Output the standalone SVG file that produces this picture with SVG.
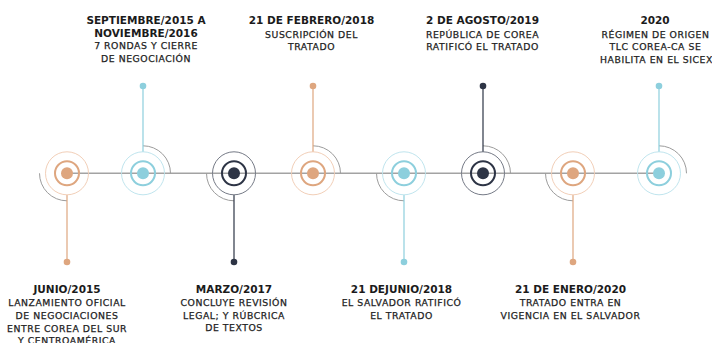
<svg xmlns="http://www.w3.org/2000/svg" width="712" height="343" viewBox="0 0 712 343">
<defs>
<style>
.t{font-family:"DejaVu Sans","Liberation Sans",sans-serif;font-weight:bold;font-size:10.5px;fill:#1b1b1b;text-anchor:middle}
.s{font-family:"DejaVu Sans","Liberation Sans",sans-serif;font-size:9.3px;fill:#222;stroke:#222;stroke-width:0.25px;text-anchor:middle;letter-spacing:0.55px}
.arc{fill:none;stroke:#9c9c9c;stroke-width:1}
.o .dot{fill:#DEA67F}.o .in{fill:none;stroke:#DEA67F;stroke-width:2}.o .out{fill:none;stroke:#F2CFB8;stroke-width:1}.o .con{stroke:#DEA67F;stroke-width:1.2}
.b .dot{fill:#8DCFDD}.b .in{fill:none;stroke:#8DCFDD;stroke-width:2}.b .out{fill:none;stroke:#C0E5EE;stroke-width:1}.b .con{stroke:#8DCFDD;stroke-width:1.2}
.d .dot{fill:#2D3445}.d .in{fill:none;stroke:#2D3445;stroke-width:2}.d .out{fill:none;stroke:#757A86;stroke-width:1}.d .con{stroke:#2D3445;stroke-width:1.2}
</style>
</defs>
<rect width="712" height="343" fill="#fff"/>
<g id="connectors">
<line x1="67" y1="173.3" x2="659" y2="173.3" stroke="#A3A3A3" stroke-width="1.4"/>
</g>
<g id="n1" class="o">
<path class="arc" d="M39.5 173.3 A27.5 27.5 0 0 0 67 200.8"/>
<line class="con" x1="67" y1="195" x2="67" y2="262"/>
<circle class="pin dot" cx="67" cy="262" r="3.3"/>
<circle class="out" cx="67" cy="173.3" r="21.5"/>
<circle class="in" cx="67" cy="173.3" r="12"/>
<circle class="dot" cx="67" cy="173.3" r="6"/>
<text class="t" x="67" y="293">JUNIO/2015</text>
<text class="s" x="67" y="306">LANZAMIENTO OFICIAL</text>
<text class="s" x="67" y="318.7">DE NEGOCIACIONES</text>
<text class="s" x="67" y="331.7">ENTRE COREA DEL SUR</text>
<text class="s" x="67" y="344">Y CENTROAMÉRICA</text>
</g>
<g id="n2" class="b">
<path class="arc" d="M143 145.8 A27.5 27.5 0 0 1 170.5 173.3"/>
<line class="con" x1="143" y1="86" x2="143" y2="152"/>
<circle class="dot" cx="143" cy="86" r="3.3"/>
<circle class="out" cx="143" cy="173.3" r="21.5"/>
<circle class="in" cx="143" cy="173.3" r="12"/>
<circle class="dot" cx="143" cy="173.3" r="6"/>
<text class="t" x="146" y="24">SEPTIEMBRE/2015 A</text>
<text class="t" x="146" y="36.5">NOVIEMBRE/2016</text>
<text class="s" x="146" y="49">7 RONDAS Y CIERRE</text>
<text class="s" x="146" y="62">DE NEGOCIACIÓN</text>
</g>
<g id="n3" class="d">
<path class="arc" d="M206.5 173.3 A27.5 27.5 0 0 0 234 200.8"/>
<line class="con" x1="234" y1="195" x2="234" y2="262"/>
<circle class="dot" cx="234" cy="262" r="3.3"/>
<circle class="out" cx="234" cy="173.3" r="21.5"/>
<circle class="in" cx="234" cy="173.3" r="12"/>
<circle class="dot" cx="234" cy="173.3" r="6"/>
<text class="t" x="234" y="293">MARZO/2017</text>
<text class="s" x="234" y="306">CONCLUYE REVISIÓN</text>
<text class="s" x="234" y="318.7">LEGAL; Y RÚBCRICA</text>
<text class="s" x="234" y="331.3">DE TEXTOS</text>
</g>
<g id="n4" class="o">
<path class="arc" d="M313 145.8 A27.5 27.5 0 0 1 340.5 173.3"/>
<line class="con" x1="313" y1="86" x2="313" y2="152"/>
<circle class="dot" cx="313" cy="86" r="3.3"/>
<circle class="out" cx="313" cy="173.3" r="21.5"/>
<circle class="in" cx="313" cy="173.3" r="12"/>
<circle class="dot" cx="313" cy="173.3" r="6"/>
<text class="t" x="311.5" y="24">21 DE FEBRERO/2018</text>
<text class="s" x="311.5" y="37.5">SUSCRIPCIÓN DEL</text>
<text class="s" x="311.5" y="50">TRATADO</text>
</g>
<g id="n5" class="b">
<path class="arc" d="M376.5 173.3 A27.5 27.5 0 0 0 404 200.8"/>
<line class="con" x1="404" y1="195" x2="404" y2="262"/>
<circle class="dot" cx="404" cy="262" r="3.3"/>
<circle class="out" cx="404" cy="173.3" r="21.5"/>
<circle class="in" cx="404" cy="173.3" r="12"/>
<circle class="dot" cx="404" cy="173.3" r="6"/>
<text class="t" x="401.5" y="293">21 DEJUNIO/2018</text>
<text class="s" x="401.5" y="306">EL SALVADOR RATIFICÓ</text>
<text class="s" x="401.5" y="318.7">EL TRATADO</text>
</g>
<g id="n6" class="d">
<path class="arc" d="M483 145.8 A27.5 27.5 0 0 1 510.5 173.3"/>
<line class="con" x1="483" y1="86" x2="483" y2="152"/>
<circle class="dot" cx="483" cy="86" r="3.3"/>
<circle class="out" cx="483" cy="173.3" r="21.5"/>
<circle class="in" cx="483" cy="173.3" r="12"/>
<circle class="dot" cx="483" cy="173.3" r="6"/>
<text class="t" x="482.5" y="24">2 DE AGOSTO/2019</text>
<text class="s" x="482.5" y="37.5">REPÚBLICA DE COREA</text>
<text class="s" x="482.5" y="50">RATIFICÓ EL TRATADO</text>
</g>
<g id="n7" class="o">
<path class="arc" d="M545.5 173.3 A27.5 27.5 0 0 0 573 200.8"/>
<line class="con" x1="573" y1="195" x2="573" y2="262"/>
<circle class="dot" cx="573" cy="262" r="3.3"/>
<circle class="out" cx="573" cy="173.3" r="21.5"/>
<circle class="in" cx="573" cy="173.3" r="12"/>
<circle class="dot" cx="573" cy="173.3" r="6"/>
<text class="t" x="570.5" y="293">21 DE ENERO/2020</text>
<text class="s" x="570.5" y="306">TRATADO ENTRA EN</text>
<text class="s" x="570.5" y="318.7">VIGENCIA EN EL SALVADOR</text>
</g>
<g id="n8" class="b">
<path class="arc" d="M659 145.8 A27.5 27.5 0 0 1 686.5 173.3"/>
<line class="con" x1="659" y1="86" x2="659" y2="152"/>
<circle class="dot" cx="659" cy="86" r="3.3"/>
<circle class="out" cx="659" cy="173.3" r="21.5"/>
<circle class="in" cx="659" cy="173.3" r="12"/>
<circle class="dot" cx="659" cy="173.3" r="6"/>
<text class="t" x="655" y="24">2020</text>
<text class="s" x="655.5" y="37.5">RÉGIMEN DE ORIGEN</text>
<text class="s" x="655.5" y="50">TLC COREA-CA SE</text>
<text class="s" x="656.5" y="63">HABILITA EN EL SICEX</text>
</g>
</svg>
